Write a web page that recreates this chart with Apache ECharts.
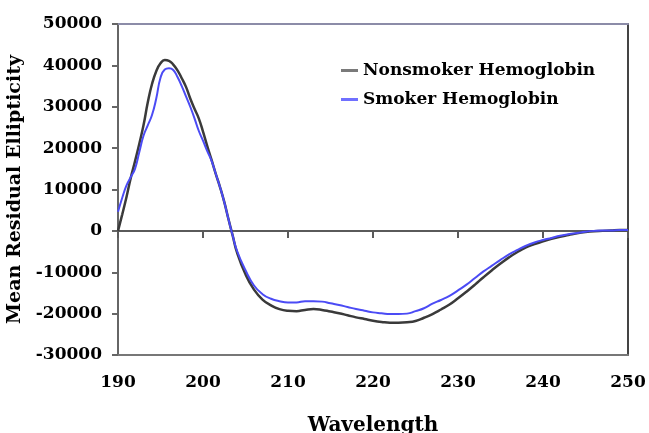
<!DOCTYPE html>
<html><head><meta charset="utf-8">
<script src="https://cdn.jsdelivr.net/npm/echarts@6/dist/echarts.min.js"></script>
<style>html,body{margin:0;padding:0;background:#fff}#c{width:649px;height:433px}</style>
</head><body><div id="c"></div>
<script>
var nonsmokerWl = [190,190.5,191,191.5,192,192.5,193,193.5,194,194.5,195,195.5,196,196.5,197,197.5,198,198.5,199,199.5,200,200.5,201,201.5,202,202.5,203,203.5,204,205,206,207,208,209,210,211,212,213,214,215,216,217,218,219,220,221,222,223,224,225,226,227,228,229,230,231,232,233,234,235,236,237,238,239,240,241,242,243,244,245,246,247,248,249,250];
var nonsmokerVal = [0,4000,8200,12800,16800,21000,25500,31000,35500,38600,40500,41300,41100,40200,38800,36900,34800,32000,29500,27200,24000,20500,17200,13800,10600,7000,2800,-1200,-5200,-10500,-14200,-16600,-18000,-18900,-19300,-19400,-19100,-18900,-19100,-19500,-19900,-20400,-20900,-21300,-21700,-22000,-22200,-22200,-22100,-21800,-21000,-20100,-19000,-17800,-16300,-14700,-13000,-11200,-9500,-7900,-6400,-5100,-4000,-3200,-2500,-1900,-1400,-1000,-600,-300,-100,0,100,200,200];
var smokerWl = nonsmokerWl.slice();
var smokerVal = [4600,8000,11000,13000,15000,19000,23000,25500,28000,32000,37000,39000,39300,38900,37200,35000,32500,30000,27200,24200,21800,19300,17000,13800,10600,7000,2800,-1200,-4800,-9500,-13200,-15300,-16400,-17000,-17300,-17300,-17000,-17000,-17100,-17500,-17900,-18400,-18900,-19300,-19700,-19900,-20100,-20100,-20000,-19400,-18700,-17600,-16700,-15700,-14400,-13000,-11400,-9800,-8400,-7000,-5700,-4600,-3600,-2800,-2200,-1700,-1200,-800,-500,-200,0,100,100,200,200];
var seriesNames = ['Nonsmoker Hemoglobin','Smoker Hemoglobin'];
var xTitle = 'Wavelength';
var yTitle = 'Mean Residual Ellipticity';

function pairs(xs, ys){ return xs.map(function(x,i){return [x, ys[i]];}); }
var font = 'DejaVu Serif';
var plain = function(v){ return String(v); };
var chart = echarts.init(document.getElementById('c'));
chart.setOption({
  animation: false,
  grid: {left:118, right:21, top:24, bottom:78, outerBoundsMode:'none'},
  legend: {
    orient:'vertical', left:336, top:57, itemGap:12, itemWidth:17, itemHeight:3, icon:'rect',
    data: seriesNames,
    textStyle:{fontFamily:font, fontWeight:'bold', fontSize:17, color:'#000'}
  },
  xAxis: [{
    type:'value', min:190, max:250, interval:10, position:'bottom',
    axisLine:{show:true, onZero:false, lineStyle:{color:'#777777', width:2}},
    axisTick:{show:false}, splitLine:{show:false},
    axisLabel:{fontFamily:font, fontWeight:'bold', fontSize:17, color:'#000', margin:19, formatter:plain},
    name:xTitle, nameLocation:'middle', nameGap:61,
    nameTextStyle:{fontFamily:font, fontWeight:'bold', fontSize:20, color:'#000'}
  },{
    type:'value', min:190, max:250, interval:10, position:'top',
    axisLine:{show:true, onZero:true, lineStyle:{color:'#5a5a5a', width:2}},
    axisTick:{show:true, inside:true, length:7, lineStyle:{color:'#5a5a5a', width:2}},
    axisLabel:{show:false}, splitLine:{show:false}
  },{
    type:'value', min:190, max:250, interval:10, position:'top',
    axisLine:{show:true, onZero:false, lineStyle:{color:'#8c8ca8', width:2}},
    axisTick:{show:false}, axisLabel:{show:false}, splitLine:{show:false}
  }],
  yAxis: [{
    type:'value', min:-30000, max:50000, interval:10000, position:'left',
    axisLine:{show:true, onZero:false, lineStyle:{color:'#666666', width:2}},
    axisTick:{show:true, length:6, lineStyle:{color:'#666666', width:2}},
    splitLine:{show:false},
    axisLabel:{fontFamily:font, fontWeight:'bold', fontSize:17, color:'#000', margin:16, formatter:plain},
    name:yTitle, nameLocation:'middle', nameGap:80, nameRotate:90,
    nameTextStyle:{fontFamily:font, fontWeight:'bold', fontSize:19, color:'#000'}
  },{
    type:'value', min:-30000, max:50000, interval:10000, position:'right',
    axisLine:{show:true, onZero:false, lineStyle:{color:'#444444', width:2}},
    axisTick:{show:false}, axisLabel:{show:false}, splitLine:{show:false}
  }],
  series: [{
    name:seriesNames[0], type:'line', smooth:true, showSymbol:false, xAxisIndex:0, yAxisIndex:0,
    data: pairs(nonsmokerWl, nonsmokerVal),
    lineStyle:{color:'#3a3a3a', width:2.5}, itemStyle:{color:'#7a7a7a'}
  },{
    name:seriesNames[1], type:'line', smooth:true, showSymbol:false, xAxisIndex:0, yAxisIndex:0,
    data: pairs(smokerWl, smokerVal),
    lineStyle:{color:'#4b4bf5', width:2}, itemStyle:{color:'#7070ff'}
  }]
});
</script></body></html>
